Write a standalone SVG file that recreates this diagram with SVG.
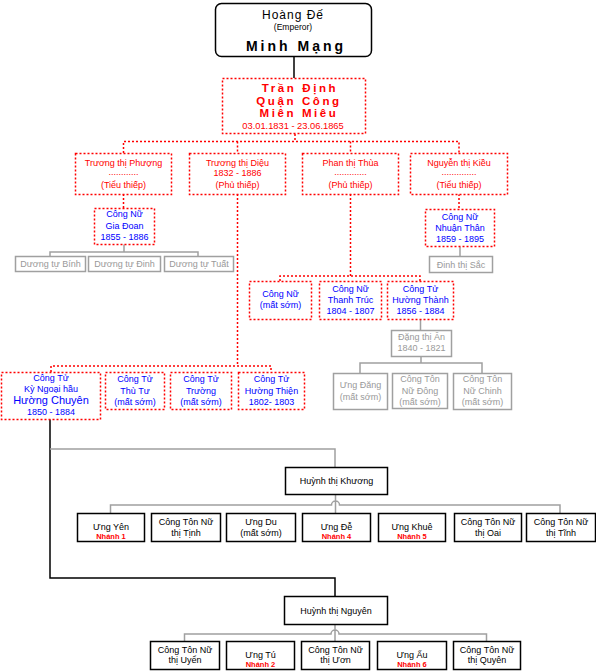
<svg xmlns="http://www.w3.org/2000/svg" width="596" height="672" viewBox="0 0 596 672">
<style>
text{font-family:"Liberation Sans",Arial,sans-serif;font-size:9px;text-anchor:middle}
.rd{fill:#fff;stroke:#f00;stroke-width:1.5;stroke-dasharray:2 2}
.gb{fill:#fff;stroke:#a0a0a0;stroke-width:1.5}
.bb{fill:#fff;stroke:#000;stroke-width:1.5}
.rc{fill:none;stroke:#f00;stroke-width:1.5;stroke-dasharray:2 2}
.gc{fill:none;stroke:#a0a0a0;stroke-width:1.5}
.bc{fill:none;stroke:#000;stroke-width:1.5}
.r{fill:#f00}.b{fill:#00f}.g{fill:#999}.k{fill:#000}
.t{font-weight:bold;font-size:11.5px;letter-spacing:2.6px}
.n{fill:#f00;font-size:7.5px;font-weight:bold}
</style>
<rect width="596" height="672" fill="#fff"/>
<g id="connectors">
<path class="bc" d="M294,57 V78"/>
<path class="rc" d="M295,134 V141.5"/>
<path class="rc" d="M123.5,153 V141.5 H459 V153 M237.5,141.5 V153 M350.5,141.5 V153"/>
<path class="rc" d="M123.5,194 V208"/>
<path class="gc" d="M124,244 V252 M50,256 V252 H198 V256"/>
<path class="rc" d="M459,194 V209"/>
<path class="gc" d="M460,247 V256"/>
<path class="rc" d="M350.5,194 V276 M280,281 V276 H420 V281"/>
<path class="gc" d="M420.5,319 V330 M421,356 V363 M360,373 V363 H482 V373"/>
<path class="rc" d="M237.5,194 V366 M51,372 V366 H271 V372"/>
<path class="bc" d="M50,419 V578 H335 V596"/>
<path class="gc" d="M50,449 H335 V467"/>
<path class="gc" d="M335.5,494 V513 M110.5,513 V505 H331.5 A4,4 0 0 1 339.5,505 H560 V513"/>
<path class="gc" d="M335,624 V641 M184.5,641 V634 H331 A4,4 0 0 1 339,634 H486.5 V641"/>
</g>
<g id="emperor">
<rect x="215.5" y="3.5" width="156" height="53" rx="6" fill="#fff" stroke="#000" stroke-width="1.5"/>
<text x="293" y="19" style="font-size:12px;letter-spacing:1px">Hoàng Đế</text>
<text x="293" y="30" style="font-size:8.5px">(Emperor)</text>
<text x="296" y="51" style="font-size:14px;font-weight:bold;letter-spacing:3px">Minh Mạng</text>
</g>
<g id="tran-dinh">
<rect class="rd" x="222.5" y="78.5" width="143" height="55"/>
<text class="r t" x="300" y="92">Trần Định</text>
<text class="r t" x="299" y="105">Quận Công</text>
<text class="r t" x="299" y="117">Miên Miêu</text>
<text class="r" x="293" y="128.5" style="font-size:9.3px">03.01.1831 - 23.06.1865</text>
</g>
<g id="phuong">
<rect class="rd" x="75.5" y="153.5" width="96" height="41"/>
<text class="r" x="123.5" y="165.5">Trương thị Phượng</text>
<text class="r" x="123.5" y="175">............</text>
<text class="r" x="123.5" y="187.5">(Tiểu thiếp)</text>
</g>
<g id="dieu">
<rect class="rd" x="189.5" y="153.5" width="96" height="41"/>
<text class="r" x="237.5" y="165.5">Trương thị Diệu</text>
<text class="r" x="237.5" y="176">1832 - 1886</text>
<text class="r" x="237.5" y="187.5">(Phủ thiếp)</text>
</g>
<g id="phan">
<rect class="rd" x="302.5" y="153.5" width="96" height="41"/>
<text class="r" x="350.5" y="165.5">Phan thị Thùa</text>
<text class="r" x="350.5" y="175">.............</text>
<text class="r" x="350.5" y="187.5">(Phủ thiếp)</text>
</g>
<g id="kieu">
<rect class="rd" x="410.5" y="153.5" width="97" height="41"/>
<text class="r" x="459" y="165.5">Nguyễn thị Kiều</text>
<text class="r" x="459" y="175">..............</text>
<text class="r" x="459" y="187.5">(Tiểu thiếp)</text>
</g>
<g id="gia-doan">
<rect class="rd" x="94.5" y="208.5" width="60" height="36"/>
<text class="b" x="124.5" y="217">Công Nữ</text>
<text class="b" x="124.5" y="229">Gia Đoan</text>
<text class="b" x="124.5" y="240">1855 - 1886</text>
</g>
<g id="binh"><rect class="gb" x="15.5" y="256.5" width="70" height="15"/><text class="g" x="50.5" y="267">Dương tự Bính</text></g>
<g id="dinh"><rect class="gb" x="88.5" y="256.5" width="72" height="15"/><text class="g" x="124.5" y="267">Dương tự Đinh</text></g>
<g id="tuat"><rect class="gb" x="164.5" y="256.5" width="69" height="15"/><text class="g" x="199" y="267">Dương tự Tuất</text></g>
<g id="nhuan-than">
<rect class="rd" x="425.5" y="209.5" width="69" height="37"/>
<text class="b" x="460" y="220">Công Nữ</text>
<text class="b" x="460" y="231">Nhuận Thân</text>
<text class="b" x="460" y="242">1859 - 1895</text>
</g>
<g id="sac"><rect class="gb" x="429.5" y="256.5" width="63" height="16"/><text class="g" x="461" y="267.5">Đinh thị Sắc</text></g>
<g id="cong-nu-ms">
<rect class="rd" x="249.5" y="281.5" width="62" height="38"/>
<text class="b" x="280.5" y="297">Công Nữ</text>
<text class="b" x="280.5" y="308">(mất sớm)</text>
</g>
<g id="thanh-truc">
<rect class="rd" x="319.5" y="281.5" width="62" height="38"/>
<text class="b" x="350.5" y="292">Công Nữ</text>
<text class="b" x="350.5" y="303">Thanh Trúc</text>
<text class="b" x="350.5" y="314">1804 - 1807</text>
</g>
<g id="huong-thanh">
<rect class="rd" x="387.5" y="281.5" width="66" height="38"/>
<text class="b" x="420.5" y="292">Công Tử</text>
<text class="b" x="420.5" y="303">Hường Thành</text>
<text class="b" x="420.5" y="314">1856 - 1884</text>
</g>
<g id="dang-an">
<rect class="gb" x="391.5" y="330.5" width="60" height="26"/>
<text class="g" x="421.5" y="340">Đặng thị Ân</text>
<text class="g" x="421.5" y="351">1840 - 1821</text>
</g>
<g id="ung-dang">
<rect class="gb" x="333.5" y="373.5" width="54" height="36"/>
<text class="g" x="360.5" y="388">Ưng Đăng</text>
<text class="g" x="360.5" y="400">(mất sớm)</text>
</g>
<g id="ctn-dong">
<rect class="gb" x="392.5" y="373.5" width="55" height="35"/>
<text class="g" x="420" y="382">Công Tôn</text>
<text class="g" x="420" y="394">Nữ Đông</text>
<text class="g" x="420" y="404.5">(mất sớm)</text>
</g>
<g id="ctn-chinh">
<rect class="gb" x="453.5" y="373.5" width="58" height="36"/>
<text class="g" x="482.5" y="382">Công Tôn</text>
<text class="g" x="482.5" y="394">Nữ Chinh</text>
<text class="g" x="482.5" y="404.5">(mất sớm)</text>
</g>
<g id="huong-chuyen">
<rect class="rd" x="1.5" y="372.5" width="99" height="47"/>
<text class="b" x="51" y="380.5">Công Tử</text>
<text class="b" x="51" y="391.5">Kỳ Ngoại hầu</text>
<text class="b" x="51" y="404" style="font-size:11px">Hường Chuyên</text>
<text class="b" x="51" y="415">1850 - 1884</text>
</g>
<g id="thu-tu">
<rect class="rd" x="105.5" y="372.5" width="59" height="37"/>
<text class="b" x="135" y="382">Công Tử</text>
<text class="b" x="135" y="394">Thù Tư</text>
<text class="b" x="135" y="405">(mất sớm)</text>
</g>
<g id="truong">
<rect class="rd" x="170.5" y="372.5" width="61" height="37"/>
<text class="b" x="201" y="382">Công Tử</text>
<text class="b" x="201" y="394">Trường</text>
<text class="b" x="201" y="405">(mất sớm)</text>
</g>
<g id="huong-thien">
<rect class="rd" x="238.5" y="372.5" width="66" height="37"/>
<text class="b" x="271.5" y="382">Công Tử</text>
<text class="b" x="271.5" y="393.5">Hường Thiện</text>
<text class="b" x="271.5" y="405">1802- 1803</text>
</g>
<g id="khuong">
<rect class="bb" x="285.5" y="467.5" width="102" height="27"/>
<text class="k" x="336.5" y="484">Huỳnh thị Khương</text>
</g>
<g id="ung-yen">
<rect class="bb" x="77.5" y="513.5" width="67" height="28"/>
<text class="k" x="111" y="530">Ưng Yên</text>
<text class="n" x="111" y="538.5">Nhánh 1</text>
</g>
<g id="ctn-tinh">
<rect class="bb" x="151.5" y="513.5" width="69" height="28"/>
<text class="k" x="186" y="525">Công Tôn Nữ</text>
<text class="k" x="186" y="535.5">thị Tịnh</text>
</g>
<g id="ung-du">
<rect class="bb" x="226.5" y="513.5" width="69" height="28"/>
<text class="k" x="261" y="525">Ưng Du</text>
<text class="k" x="261" y="535.5">(mất sớm)</text>
</g>
<g id="ung-de">
<rect class="bb" x="302.5" y="513.5" width="68" height="28"/>
<text class="k" x="336.5" y="530">Ưng Đễ</text>
<text class="n" x="336.5" y="538.5">Nhánh 4</text>
</g>
<g id="ung-khue">
<rect class="bb" x="378.5" y="513.5" width="67" height="28"/>
<text class="k" x="412" y="530">Ưng Khuê</text>
<text class="n" x="412" y="538.5">Nhánh 5</text>
</g>
<g id="ctn-oai">
<rect class="bb" x="454.5" y="513.5" width="67" height="28"/>
<text class="k" x="488" y="525">Công Tôn Nữ</text>
<text class="k" x="488" y="535.5">thị Oai</text>
</g>
<g id="ctn-tinh2">
<rect class="bb" x="526.5" y="513.5" width="69" height="28"/>
<text class="k" x="561" y="525">Công Tôn Nữ</text>
<text class="k" x="561" y="535.5">thị Tĩnh</text>
</g>
<g id="nguyen">
<rect class="bb" x="284.5" y="596.5" width="103" height="28"/>
<text class="k" x="336" y="614">Huỳnh thị Nguyên</text>
</g>
<g id="ctn-uyen">
<rect class="bb" x="150.5" y="641.5" width="69" height="28"/>
<text class="k" x="185" y="653">Công Tôn Nữ</text>
<text class="k" x="185" y="663">thị Uyển</text>
</g>
<g id="ung-tu">
<rect class="bb" x="226.5" y="641.5" width="68" height="28"/>
<text class="k" x="260.5" y="657.5">Ưng Tú</text>
<text class="n" x="260.5" y="666.5">Nhánh 2</text>
</g>
<g id="ctn-uon">
<rect class="bb" x="301.5" y="641.5" width="68" height="28"/>
<text class="k" x="335.5" y="653">Công Tôn Nữ</text>
<text class="k" x="335.5" y="663">thị Ươn</text>
</g>
<g id="ung-au">
<rect class="bb" x="377.5" y="641.5" width="69" height="28"/>
<text class="k" x="412" y="657.5">Ưng Ấu</text>
<text class="n" x="412" y="666.5">Nhánh 6</text>
</g>
<g id="ctn-quyen">
<rect class="bb" x="453.5" y="641.5" width="67" height="28"/>
<text class="k" x="487" y="653">Công Tôn Nữ</text>
<text class="k" x="487" y="663">thị Quyên</text>
</g>
</svg>
